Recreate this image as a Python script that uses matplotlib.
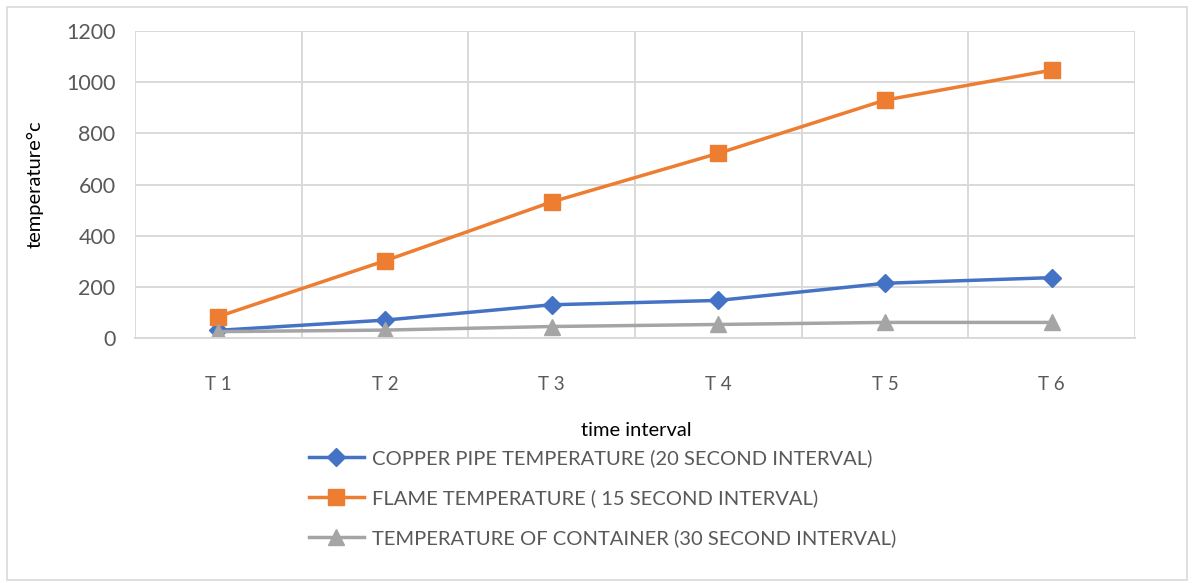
import numpy as np
import matplotlib.pyplot as plt
from matplotlib.patches import Rectangle

categories = ["T 1", "T 2", "T 3", "T 4", "T 5", "T 6"]
copper_pipe = [30, 70, 130, 147, 214, 236]
flame = [84, 302, 532, 722, 930, 1047]
container = [25, 31, 45, 53, 61, 61]
labels = ["COPPER PIPE TEMPERATURE (20 SECOND INTERVAL)",
          "FLAME TEMPERATURE ( 15 SECOND INTERVAL)",
          "TEMPERATURE OF CONTAINER (30 SECOND INTERVAL)"]

plt.rcParams['font.family'] = ['Lato', 'DejaVu Sans']
txt = '#595959'
grid = '#d9d9d9'

fig = plt.figure(figsize=(11.94, 5.83), dpi=100)
fig.patches.append(Rectangle((0.006, 0.006), 0.988, 0.982, transform=fig.transFigure,
                             fill=False, edgecolor=grid, linewidth=1.2))
ax = fig.add_axes([0.1131, 0.4202, 0.8375, 0.5266])

x = np.arange(len(categories))
ax.plot(x, copper_pipe, marker='D', markersize=9, linewidth=2.5, color='#4472C4', label=labels[0])
ax.plot(x, flame, marker='s', markersize=11, linewidth=2.5, color='#ED7D31', label=labels[1])
ax.plot(x, container, marker='^', markersize=11, linewidth=2.5, color='#A5A5A5', label=labels[2])

ax.set_xlim(-0.5, len(categories) - 0.5)
ax.set_ylim(0, 1200)
ax.set_yticks(range(0, 1201, 200))
ax.set_xticks(x)
ax.set_xticklabels(categories)
ax.set_xticks(np.arange(-0.5, len(categories), 1.0), minor=True)
ax.grid(axis='y', color=grid, linewidth=1.4)
ax.grid(axis='x', which='minor', color=grid, linewidth=1.4)
ax.set_axisbelow(True)
for s in ['top', 'right', 'left']:
    ax.spines[s].set_visible(False)
ax.spines['bottom'].set_color(grid)
ax.spines['bottom'].set_linewidth(1.4)
ax.tick_params(axis='both', which='both', length=0, colors=txt)
ax.tick_params(axis='y', labelsize=15.5, pad=14)
ax.tick_params(axis='x', labelsize=13.5, pad=27)

ax.set_ylabel("temperature°c", fontsize=14.5, color='black', labelpad=16)
fig.text(0.533, 0.262, "time interval", fontsize=14.5, ha='center', va='center')

leg = fig.legend(loc='upper left', bbox_to_anchor=(0.259, 0.230), frameon=False,
                 fontsize=14.5, handlelength=2.7, handletextpad=0.4, labelspacing=1.1,
                 borderaxespad=0, borderpad=0)
for t in leg.get_texts():
    t.set_color(txt)

plt.savefig('out.png', dpi=100)
